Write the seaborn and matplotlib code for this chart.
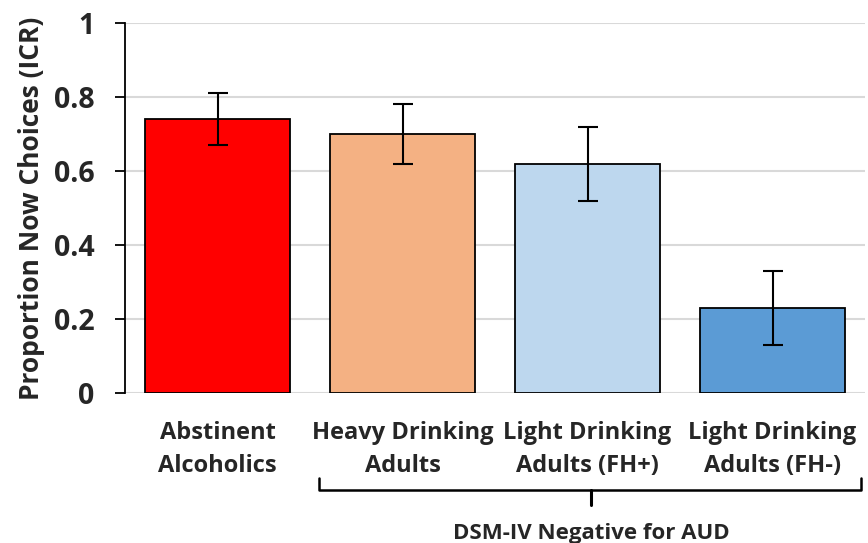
import matplotlib
matplotlib.use("Agg")
import matplotlib.pyplot as plt
import seaborn as sns
import pandas as pd
import numpy as np

categories = ["Abstinent\nAlcoholics", "Heavy Drinking\nAdults", "Light Drinking\nAdults (FH+)", "Light Drinking\nAdults (FH-)"]
values = [0.74, 0.70, 0.62, 0.23]
errors = [0.07, 0.08, 0.10, 0.10]
colors = ["#FF0000", "#F4B183", "#BDD7EE", "#5B9BD5"]
yticks = [0, 0.2, 0.4, 0.6, 0.8, 1]
ytick_labels = ["0", "0.2", "0.4", "0.6", "0.8", "1"]
ylabel = "Proportion Now Choices (ICR)"
group_label = "DSM-IV Negative for AUD"

sns.set_theme(style="white")
plt.rcParams["font.family"] = ["Open Sans", "DejaVu Sans"]
plt.rcParams["font.weight"] = "bold"

df = pd.DataFrame({"cat": categories, "val": values})

fig = plt.figure(figsize=(8.68, 5.43), dpi=100)
ax = fig.add_axes([125/868, 1-393/543, 740/868, 370/543])

sns.barplot(data=df, x="cat", y="val", hue="cat", palette=colors, legend=False,
            saturation=1, width=0.78, edgecolor="black", linewidth=1.3, ax=ax, zorder=3)
ax.errorbar(np.arange(len(values)), values, yerr=errors, fmt="none",
            ecolor="black", elinewidth=1.5, capsize=7, capthick=1.5, zorder=4)

ax.set_ylim(0, 1)
ax.set_xlim(-0.5, len(values) - 0.5)
ax.set_yticks(yticks)
ax.set_yticklabels(ytick_labels, fontsize=20.5, fontweight="bold")
ax.yaxis.grid(True, color="#D9D9D9", linewidth=1.5, zorder=0)
ax.set_axisbelow(True)
ax.tick_params(axis="y", length=7, width=1.3, color="black", pad=15, left=True)
ax.tick_params(axis="x", length=0, pad=20, labelsize=17)
for lab in ax.get_xticklabels():
    lab.set_fontweight("bold")
    lab.set_linespacing(1.5)
ax.set_xlabel("")
ax.set_ylabel(ylabel, fontsize=19, fontweight="bold", labelpad=6)

for s in ["top", "right", "bottom"]:
    ax.spines[s].set_visible(False)
ax.spines["left"].set_color("black")
ax.spines["left"].set_linewidth(1.3)

# bracket for grouped categories
tr = ax.get_xaxis_transform()
x0, x1, xc = 0.55, 3.48, 2.02
yb, ye, yc = -0.262, -0.23, -0.303
ax.plot([x0, x0, x1, x1], [ye, yb, yb, ye], color="black", lw=1.8, transform=tr, clip_on=False)
ax.plot([xc, xc], [yb, yc], color="black", lw=2.2, transform=tr, clip_on=False)
ax.text(xc, -0.38, group_label, transform=tr, ha="center", va="center",
        fontsize=16, fontweight="bold")

fig.savefig("out.png", dpi=100)
